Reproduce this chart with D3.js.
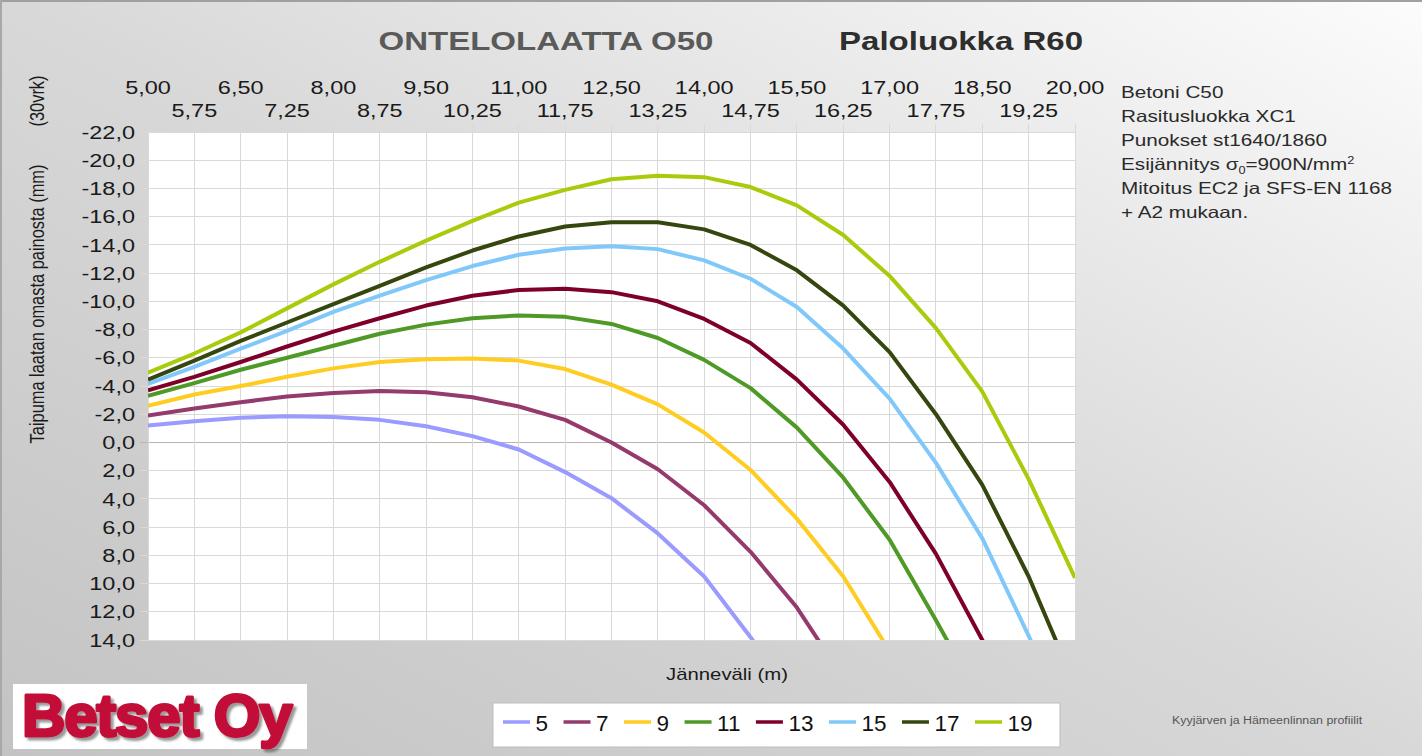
<!DOCTYPE html>
<html><head><meta charset="utf-8">
<script src="https://cdn.jsdelivr.net/npm/d3@7"></script>
<style>
html,body{margin:0;padding:0;overflow:hidden;background:#fff}
svg{display:block;font-family:"Liberation Sans",Arial,sans-serif}
</style>
</head><body>
<svg id="c" width="1422" height="756"></svg>
<script>
// ---------- data ----------
const spans = [5.00,5.75,6.50,7.25,8.00,8.75,9.50,10.25,11.00,11.75,12.50,13.25,14.00,14.75,15.50,16.25,17.00,17.75,18.50,19.25,20.00];
const seriesNames = ["5","7","9","11","13","15","17","19"];
const seriesColors = ["#9a9aff","#953a6c","#ffcc22","#4f9a26","#7e0028","#80c8fa","#35470e","#a8cc0c"];
const s5  = [-1.2,-1.5,-1.75,-1.85,-1.8,-1.6,-1.15,-0.45,0.5,2.1,3.95,6.45,9.5,13.8,18.5,null,null,null,null,null,null];
const s7  = [-1.9,-2.4,-2.85,-3.25,-3.5,-3.65,-3.55,-3.2,-2.55,-1.6,0.0,1.9,4.45,7.75,11.7,16.7,null,null,null,null,null];
const s9  = [-2.6,-3.4,-4.0,-4.65,-5.25,-5.7,-5.9,-5.95,-5.8,-5.2,-4.1,-2.7,-0.7,1.95,5.4,9.5,14.8,null,null,null,null];
const s11 = [-3.3,-4.2,-5.15,-6.0,-6.85,-7.7,-8.35,-8.8,-9.0,-8.9,-8.4,-7.4,-5.85,-3.85,-1.05,2.5,6.9,12.6,18.5,null,null];
const s13 = [-3.7,-4.65,-5.7,-6.8,-7.85,-8.8,-9.7,-10.4,-10.8,-10.9,-10.65,-10.0,-8.75,-7.05,-4.45,-1.25,2.8,7.9,14.0,20.0,null];
const s15 = [-4.15,-5.35,-6.65,-7.9,-9.25,-10.4,-11.5,-12.5,-13.3,-13.75,-13.9,-13.7,-12.9,-11.6,-9.6,-6.65,-3.1,1.45,6.8,13.7,21.0];
const s17 = [-4.45,-5.8,-7.2,-8.5,-9.8,-11.1,-12.4,-13.6,-14.6,-15.3,-15.6,-15.6,-15.1,-14.0,-12.2,-9.7,-6.4,-2.0,3.0,9.5,17.2];
const s19 = [-4.95,-6.3,-7.8,-9.5,-11.2,-12.8,-14.3,-15.7,-17.0,-17.9,-18.65,-18.9,-18.8,-18.1,-16.8,-14.7,-11.8,-8.1,-3.6,2.6,9.6];
const yTicks = [-22,-20,-18,-16,-14,-12,-10,-8,-6,-4,-2,0,2,4,6,8,10,12,14];
const titleLeft = "ONTELOLAATTA O50";
const titleRight = "Paloluokka R60";
const yTitle = "Taipuma laatan omasta painosta (mm)";
const yTitle2 = "(30vrk)";
const xTitle = "Jänneväli (m)";
const infoLines = [
  [{t:"Betoni C50"}],
  [{t:"Rasitusluokka XC1"}],
  [{t:"Punokset st1640/1860"}],
  [{t:"Esijännitys σ"},{t:"0",sub:true},{t:"=900N/mm"},{t:"2",sup:true}],
  [{t:"Mitoitus EC2 ja SFS-EN 1168"}],
  [{t:"+ A2 mukaan."}]
];
const footNote = "Kyyjärven ja Hämeenlinnan profiilit";
const logoText = "Betset Oy";

// ---------- setup ----------
const SX = 1.27;
const W = 1422, H = 756;
const P = {l:148, r:1075, t:132, b:640};
const svg = d3.select("#c");
const defs = svg.append("defs");
const bg = defs.append("linearGradient").attr("id","bg").attr("x1",0).attr("y1",1).attr("x2",1).attr("y2",0);
bg.append("stop").attr("offset",0).attr("stop-color","#c3c3c3");
bg.append("stop").attr("offset",0.5).attr("stop-color","#d8d8d8");
bg.append("stop").attr("offset",1).attr("stop-color","#fcfcfc");
defs.append("clipPath").attr("id","clip").append("rect")
  .attr("x",P.l).attr("y",P.t).attr("width",P.r-P.l).attr("height",P.b-P.t);
const sh = defs.append("filter").attr("id","shadow").attr("x","-10%").attr("y","-20%").attr("width","130%").attr("height","150%");
sh.append("feDropShadow").attr("dx",3).attr("dy",3).attr("stdDeviation",1.2)
  .attr("flood-color","#555").attr("flood-opacity",0.6);

svg.append("rect").attr("width",W).attr("height",H).attr("fill","url(#bg)");
svg.append("rect").attr("x",0).attr("y",0).attr("width",W).attr("height",2).attr("fill","#a0a0a0");
svg.append("rect").attr("x",0).attr("y",0).attr("width",2).attr("height",H).attr("fill","#a8a8a8");

const loc = d3.formatLocale({decimal:",",thousands:" ",grouping:[3],currency:["","€"],minus:"-"});
const fx = loc.format(".2f"), fy = loc.format(".1f");

const x = d3.scalePoint().domain(spans).range([P.l,P.r]);
const y = d3.scaleLinear().domain([-22,14]).range([P.t,P.b]);

function stext(g, str, tx, ty, opts){
  const sx = opts.sx===undefined ? SX : opts.sx;
  const t = g.append("text").attr("transform",`translate(${tx},${ty}) scale(${sx},1)${opts.rot?` rotate(${opts.rot})`:""}`)
    .attr("text-anchor",opts.anchor||"start")
    .attr("font-size",opts.size).attr("fill",opts.fill||"#222")
    .attr("font-weight",opts.weight||"normal").text(str);
  if(opts.dy) t.attr("dy",opts.dy);
  return t;
}

// plot background
svg.append("rect").attr("x",P.l).attr("y",P.t).attr("width",P.r-P.l).attr("height",P.b-P.t).attr("fill","#fff");

// gridlines
const grid = svg.append("g");
grid.selectAll("line.h").data(yTicks).join("line")
  .attr("x1",P.l-8).attr("x2",P.r).attr("y1",d=>y(d)).attr("y2",d=>y(d))
  .attr("stroke",d=>d===0?"#b5b5b5":"#d9d9d9").attr("stroke-width",1).attr("shape-rendering","crispEdges");
grid.selectAll("line.v").data(spans).join("line")
  .attr("x1",d=>x(d)).attr("x2",d=>x(d)).attr("y1",P.t-8).attr("y2",P.b)
  .attr("stroke","#d9d9d9").attr("stroke-width",1).attr("shape-rendering","crispEdges");

// y axis labels
const gy = svg.append("g");
yTicks.forEach(v=>{
  stext(gy, fy(v), 135, y(v), {size:18.5, anchor:"end", dy:"0.36em", fill:"#1a1a1a"});
});
// top x axis labels (two rows)
const gx = svg.append("g");
spans.forEach((v,i)=>{
  stext(gx, fx(v), x(v), i%2===0 ? 94 : 117, {size:18.5, anchor:"middle", fill:"#1a1a1a"});
});

// lines
const allSeries = [s5,s7,s9,s11,s13,s15,s17,s19];
const line = d3.line().defined(d=>d!==null).x((d,i)=>x(spans[i])).y(d=>y(d));
svg.append("g").attr("clip-path","url(#clip)").selectAll("path").data(allSeries).join("path")
  .attr("d",d=>line(d)).attr("fill","none")
  .attr("stroke",(d,i)=>seriesColors[i]).attr("stroke-width",4)
  .attr("stroke-linejoin","round").attr("stroke-linecap","butt");

// titles
stext(svg, titleLeft, 546, 50, {size:26, weight:"bold", anchor:"middle", fill:"#5a5a5a"});
stext(svg, titleRight, 961, 50, {size:26, weight:"bold", anchor:"middle", fill:"#2e2e2e"});

// axis titles
stext(svg, yTitle, 44, 304, {size:16.4, anchor:"middle", rot:-90, sx:1.2, fill:"#1a1a1a"});
stext(svg, yTitle2, 44, 101, {size:16.4, anchor:"middle", rot:-90, sx:1.2, fill:"#1a1a1a"});
stext(svg, xTitle, 727, 680, {size:16, anchor:"middle", fill:"#1a1a1a"});

// info text
const gi = svg.append("g");
infoLines.forEach((parts,i)=>{
  const t = gi.append("text").attr("transform",`translate(1121,${98+i*24}) scale(${SX},1)`)
    .attr("font-size",16.3).attr("fill","#2a2a2a");
  parts.forEach((p,j)=>{
    const ts = t.append("tspan").text(p.t);
    const prev = parts[j-1];
    if(p.sub) ts.attr("font-size",10).attr("dy",4);
    else if(p.sup) ts.attr("font-size",10).attr("dy",-6);
    else if(prev && prev.sub) ts.attr("dy",-4);
    else if(prev && prev.sup) ts.attr("dy",6);
  });
});

// legend
const lg = svg.append("g");
lg.append("rect").attr("x",493).attr("y",703).attr("width",567).attr("height",44)
  .attr("fill","#fff").attr("stroke","#bdbdbd").attr("stroke-width",1);
let lx = 503;
seriesNames.forEach((n,i)=>{
  lg.append("line").attr("x1",lx).attr("x2",lx+27).attr("y1",722).attr("y2",722)
    .attr("stroke",seriesColors[i]).attr("stroke-width",3.5);
  const t = stext(lg, n, lx+32.5, 731, {size:22.5, fill:"#111", sx:1});
  const w = t.node().getComputedTextLength();
  lx += 32.5 + w + 15.5;
});

// footnote
stext(svg, footNote, 1172, 724, {size:11.5, fill:"#555", sx:1.08});

// logo
svg.append("rect").attr("x",13).attr("y",684).attr("width",294).attr("height",65).attr("fill","#fff");
stext(svg, logoText, 22, 736, {size:60, weight:"bold", fill:"#c21039", sx:1.0})
  .attr("letter-spacing",-1.2).attr("stroke","#c21039").attr("stroke-width",3)
  .attr("stroke-linejoin","round").attr("filter","url(#shadow)");
</script>
</body></html>
